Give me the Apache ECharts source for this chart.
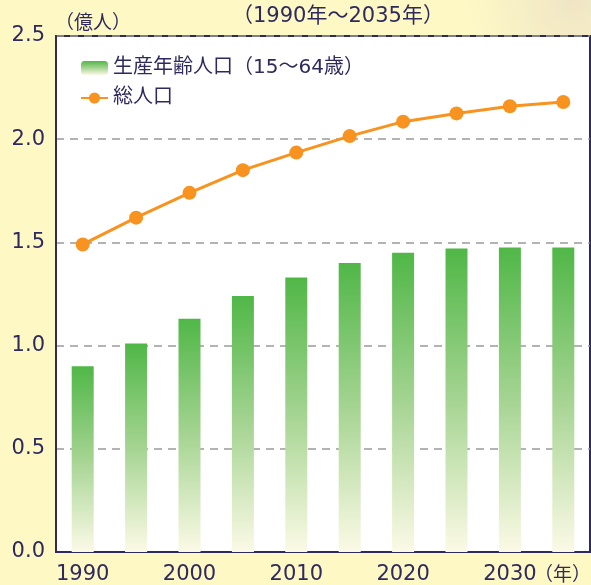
<!DOCTYPE html>
<html>
<head>
<meta charset="utf-8">
<script src="https://cdn.jsdelivr.net/npm/echarts@6/dist/echarts.min.js"></script>
<style>
    html, body { margin: 0; padding: 0; }
    #main { width: 591px; height: 585px; }
</style>
</head>
<body>
<div id="main"></div>
<script>
// 年（5年おき）
var years = ['1990', '1995', '2000', '2005', '2010', '2015', '2020', '2025', '2030', '2035'];
// 生産年齢人口（15～64歳）億人
var workingPop = [0.90, 1.01, 1.13, 1.24, 1.33, 1.40, 1.45, 1.47, 1.475, 1.475];
// 総人口 億人
var totalPop = [1.49, 1.62, 1.74, 1.85, 1.935, 2.015, 2.085, 2.125, 2.16, 2.18];

var navy = '#2e2a5e';
// 数字はDejaVu、日本語はNoto CJKにフォールバック
var font = '"DejaVu Sans", "Noto Sans CJK JP", sans-serif';

var myChart = echarts.init(document.getElementById('main'));

var option = {
    backgroundColor: {
        type: 'radial', x: 0.97, y: 0.0, r: 0.18,
        colorStops: [
            {offset: 0, color: '#efe5c6'},
            {offset: 1, color: '#fef8c5'}
        ]
    },
    textStyle: {fontFamily: font},
    grid: {
        left: 56, right: 1, top: 36, bottom: 28,
        show: true,
        backgroundColor: '#ffffff',
        borderColor: navy,
        borderWidth: 2
    },
    graphic: [
        {type: 'text', left: 232, top: 6,
            style: {text: '（1990年～2035年）', fill: navy, font: '21px ' + font}},
        {type: 'text', left: 55, top: 15,
            style: {text: '（億人）', fill: navy, font: '19px ' + font}},
        {type: 'text', right: 0, top: 567,
            style: {text: '（年）', fill: navy, font: '19px ' + font}}
    ],
    legend: {
        orient: 'vertical',
        left: 80,
        top: 58,
        padding: 0,
        itemWidth: 27,
        itemHeight: 14,
        itemGap: 10,
        textStyle: {color: navy, fontSize: 20, fontFamily: font},
        data: ['生産年齢人口（15～64歳）', '総人口']
    },
    xAxis: {
        type: 'category',
        data: years,
        axisLine: {lineStyle: {color: navy, width: 2}},
        axisTick: {
            inside: true,
            length: 7,
            lineStyle: {color: navy, width: 1},
            interval: function (i) { return i > 0 && i % 2 === 0; }
        },
        axisLabel: {
            interval: 1,
            color: navy,
            fontSize: 21,
            margin: 12
        }
    },
    yAxis: {
        type: 'value',
        min: 0,
        max: 2.5,
        interval: 0.5,
        axisLine: {show: true, lineStyle: {color: navy, width: 2}},
        axisTick: {show: false},
        axisLabel: {
            color: navy,
            fontSize: 21,
            margin: 11,
            formatter: function (v) { return v.toFixed(1); }
        },
        splitLine: {lineStyle: {color: '#9a9a9a', type: [8, 6], width: 1.5}}
    },
    series: [
        {
            name: '生産年齢人口（15～64歳）',
            type: 'bar',
            barWidth: 22,
            data: workingPop,
            itemStyle: {
                color: new echarts.graphic.LinearGradient(0, 0, 0, 1, [
                    {offset: 0, color: '#50b747'},
                    {offset: 0.5, color: '#a5d492'},
                    {offset: 1, color: '#fcfae6'}
                ])
            }
        },
        {
            name: '総人口',
            type: 'line',
            data: totalPop,
            symbol: 'circle',
            symbolSize: 14,
            lineStyle: {color: '#f7931e', width: 3},
            itemStyle: {color: '#f7931e'},
            z: 5
        }
    ]
};

myChart.setOption(option);
</script>
</body>
</html>
